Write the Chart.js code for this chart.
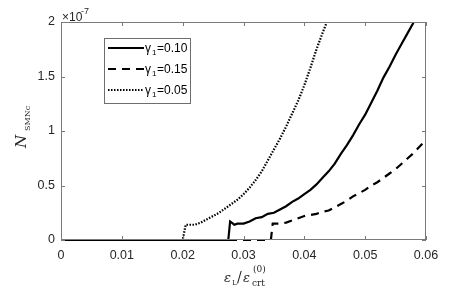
<!DOCTYPE html>
<html><head><meta charset="utf-8">
<script src="https://cdn.jsdelivr.net/npm/chart.js@4.4.1/dist/chart.umd.min.js"></script>
<style>html,body{margin:0;padding:0;background:#fff}#wrap{width:471px;height:288px}</style>
</head><body><div id="wrap"><canvas id="c" width="471" height="288"></canvas></div>
<script>
// gamma_1 = 0.10 (solid)
const xSolid = [0,0.0275,0.0278,0.0285,0.029,0.030,0.031,0.032,0.033,0.034,0.035,0.036,0.037,0.038,0.039,0.040,0.041,0.042,0.043,0.044,0.045,0.046,0.047,0.048,0.049,0.050,0.051,0.052,0.053,0.054,0.055,0.056,0.057,0.058];
const ySolid = [0,0,0.17,0.14,0.15,0.15,0.17,0.20,0.21,0.24,0.25,0.28,0.31,0.35,0.38,0.42,0.46,0.51,0.57,0.63,0.70,0.79,0.87,0.96,1.06,1.15,1.26,1.37,1.49,1.59,1.70,1.80,1.90,2.0];
// gamma_1 = 0.15 (dashed)
const xDash = [0,0.0345,0.0348,0.036,0.037,0.038,0.039,0.040,0.041,0.042,0.043,0.044,0.045,0.046,0.047,0.048,0.049,0.050,0.051,0.052,0.053,0.054,0.055,0.056,0.057,0.058,0.059,0.060];
const yDash = [0,0,0.15,0.15,0.16,0.18,0.20,0.22,0.23,0.24,0.26,0.27,0.30,0.33,0.36,0.40,0.43,0.46,0.50,0.53,0.57,0.61,0.65,0.70,0.75,0.80,0.86,0.92];
// gamma_1 = 0.05 (dotted)
const xDot = [0,0.020,0.0205,0.021,0.022,0.023,0.024,0.025,0.026,0.027,0.028,0.029,0.030,0.031,0.032,0.033,0.034,0.035,0.036,0.037,0.038,0.039,0.040,0.041,0.042,0.043,0.0437];
const yDot = [0,0,0.14,0.14,0.14,0.16,0.19,0.22,0.25,0.29,0.33,0.37,0.42,0.48,0.55,0.63,0.73,0.83,0.93,1.04,1.16,1.28,1.42,1.58,1.75,1.90,2.0];

const seriesNames = ['0.10','0.15','0.05'];
const xTickLabels = ['0','0.01','0.02','0.03','0.04','0.05','0.06'];
const yTickLabels = ['0','0.5','1','1.5','2'];

const toPts = (xs, ys) => xs.map((x, i) => ({x, y: ys[i]}));
const FONT = '"Liberation Sans", Arial, sans-serif';
const SERIF = '"DejaVu Serif", "Liberation Serif", serif';

const frame = {
  id: 'frame',
  afterDatasetsDraw(chart) {
    const ctx = chart.ctx, a = chart.chartArea;
    const xs = chart.scales.x, ys = chart.scales.y;
    ctx.save();
    ctx.strokeStyle = '#7a7a7a';
    ctx.lineWidth = 1;
    ctx.strokeRect(a.left + 0.5, a.top + 0.5, a.right - a.left - 1, a.bottom - a.top - 1);
    ctx.beginPath();
    xs.ticks.forEach(t => {
      const p = Math.round(xs.getPixelForValue(t.value)) + 0.5;
      ctx.moveTo(p, a.bottom); ctx.lineTo(p, a.bottom - 4);
      ctx.moveTo(p, a.top); ctx.lineTo(p, a.top + 4);
    });
    ys.ticks.forEach(t => {
      const p = Math.round(ys.getPixelForValue(t.value)) + 0.5;
      ctx.moveTo(a.left, p); ctx.lineTo(a.left + 4, p);
      ctx.moveTo(a.right, p); ctx.lineTo(a.right - 4, p);
    });
    ctx.stroke();

    // exponent label
    ctx.fillStyle = '#262626';
    ctx.textBaseline = 'alphabetic';
    ctx.font = '12px ' + FONT;
    ctx.textAlign = 'left';
    ctx.fillText('\u00d710', a.left + 1, a.top - 1);
    ctx.font = '9px ' + FONT;
    ctx.fillText('-7', a.left + 20, a.top - 8);

    // legend
    const lx = 104, ly = 38, lw = 86, lh = 65;
    ctx.fillStyle = '#fff';
    ctx.fillRect(lx, ly, lw, lh);
    ctx.strokeStyle = '#6e6e6e';
    ctx.strokeRect(lx + 0.5, ly + 0.5, lw, lh);
    chart.data.datasets.forEach((ds, i) => {
      const y = ly + 10 + i * 21;
      ctx.save();
      ctx.strokeStyle = ds.borderColor;
      ctx.lineWidth = ds.borderWidth;
      ctx.setLineDash(ds.borderDash || []);
      ctx.beginPath();
      ctx.moveTo(lx + 4, y); ctx.lineTo(lx + 40, y);
      ctx.stroke();
      ctx.restore();
      ctx.fillStyle = '#000';
      ctx.font = '12px ' + FONT;
      ctx.fillText('\u03b3', lx + 41, y + 4);
      ctx.font = '8px ' + FONT;
      ctx.fillText('1', lx + 48, y + 7);
      ctx.font = '12px ' + FONT;
      ctx.fillText('=' + seriesNames[i], lx + 53, y + 4);
    });

    // y-axis title
    ctx.save();
    ctx.translate(26, 148);
    ctx.rotate(-Math.PI / 2);
    ctx.fillStyle = '#262626';
    ctx.font = 'italic 15px ' + SERIF;
    ctx.textAlign = 'left';
    ctx.fillText('N', 0, 0);
    ctx.font = '8px ' + SERIF;
    ctx.fillText('SMNc', 17, 4);
    ctx.restore();

    // x-axis title
    ctx.fillStyle = '#262626';
    ctx.textAlign = 'left';
    ctx.font = 'italic 13px ' + SERIF;
    ctx.fillText('\u03b5', 224, 282);
    ctx.font = '7px ' + SERIF;
    ctx.fillText('L', 232, 285);
    ctx.font = '14px ' + SERIF;
    ctx.fillText('/', 237, 282);
    ctx.font = 'italic 13px ' + SERIF;
    ctx.fillText('\u03b5', 243, 282);
    ctx.font = '9px ' + SERIF;
    ctx.fillText('crt', 252, 286);
    ctx.fillText('(0)', 253, 272);
    ctx.restore();
  }
};

new Chart(document.getElementById('c'), {
  type: 'line',
  data: {
    datasets: [
      {label: '\u03b31=0.10', data: toPts(xSolid, ySolid), borderColor: '#000', borderWidth: 2.2, pointRadius: 0, fill: false, tension: 0, order: 0, clip: {left: 0, top: 0, right: 0, bottom: 3}},
      {label: '\u03b31=0.15', data: toPts(xDash, yDash), borderColor: '#000', borderWidth: 2.2, borderDash: [8, 6], pointRadius: 0, fill: false, tension: 0, order: 1, clip: {left: 0, top: 0, right: 0, bottom: 3}},
      {label: '\u03b31=0.05', data: toPts(xDot, yDot), borderColor: '#000', borderWidth: 2.2, borderDash: [1.5, 1.5], pointRadius: 0, fill: false, tension: 0, order: 2, clip: {left: 0, top: 0, right: 0, bottom: 3}}
    ]
  },
  options: {
    responsive: false,
    animation: false,
    layout: {padding: {left: 0, top: 22, right: 45, bottom: 0}},
    plugins: {legend: {display: false}, tooltip: {enabled: false}},
    scales: {
      x: {
        type: 'linear', min: 0, max: 0.06,
        grid: {display: false, drawTicks: false},
        border: {display: false},
        ticks: {stepSize: 0.01, padding: 8, color: '#262626', font: {family: FONT, size: 12.5},
          callback: (v, i) => xTickLabels[i], maxRotation: 0},
        afterFit: s => { s.height = 48; }
      },
      y: {
        min: 0, max: 2,
        grid: {display: false, drawTicks: false},
        border: {display: false},
        ticks: {stepSize: 0.5, padding: 6, color: '#262626', font: {family: FONT, size: 12.5},
          callback: (v, i) => yTickLabels[i]},
        afterFit: s => { s.width = 61; }
      }
    }
  },
  plugins: [frame]
});
</script></body></html>
